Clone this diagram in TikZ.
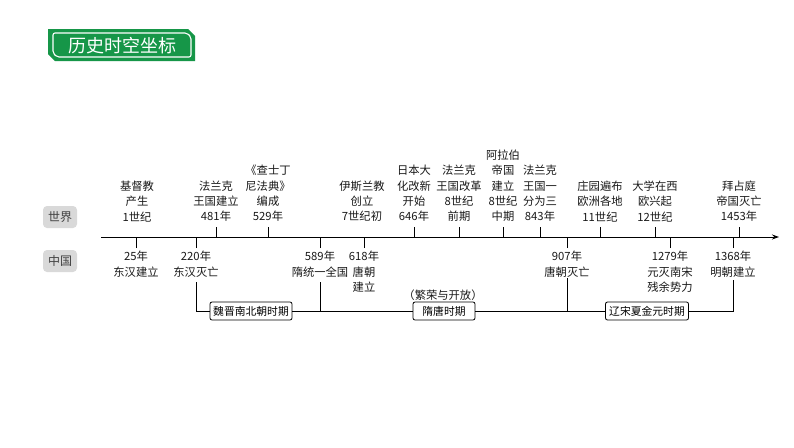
\documentclass[tikz,border=0pt]{standalone}
\usepackage{fontspec}
\setmainfont{Noto Sans CJK SC}
\usetikzlibrary{arrows.meta}
\definecolor{bannergreen}{RGB}{22,150,72}
\definecolor{tagfill}{RGB}{217,217,217}
\definecolor{tagtext}{RGB}{64,64,64}
\begin{document}
\begin{tikzpicture}[x=1pt,y=-1pt,
  lbl/.style={align=center,inner sep=0pt,font=\fontsize{11.3}{15.3}\selectfont,text=black!90},
  up/.style={lbl,anchor=south},
  down/.style={lbl,anchor=north},
  tickline/.style={line width=0.8pt},
  axisline/.style={line width=1pt,-{Stealth[length=7pt,width=5pt]}},
  tag/.style={fill=tagfill,rounded corners=4pt,minimum width=34pt,minimum height=22pt,inner sep=0pt,text=tagtext,font=\fontsize{12}{14}\selectfont},
  period/.style={draw,line width=0.8pt,rounded corners=2pt,fill=white,minimum height=18pt,inner sep=0pt,font=\fontsize{10.8}{12}\selectfont},
  conn/.style={line width=0.8pt}]
\useasboundingbox (0,0) rectangle (794,447);
\fill[white] (0,0) rectangle (794,447);
% banner
\fill[bannergreen] (48,29) -- (188,29) -- (195,36) -- (195,61) -- (55,61) -- (48,54) -- cycle;
\draw[white,line width=1.1pt,rounded corners=2pt] (53,33) -- (187,33) -- (191,37) -- (191,57) -- (57,57) -- (53,53) -- cycle;
\node[white,inner sep=0pt,font=\fontsize{18}{20}\selectfont] (title) at (122,46) {历史时空坐标};
% tags
\node[tag] (world) at (60,217) {世界};
\node[tag] (china) at (60,261) {中国};
% axis
\coordinate (axs) at (101,237);
\coordinate (axe) at (779,237);
\draw[axisline] (axs) -- (axe);
% world labels
\node[up] (w1) at (137,222) {基督教\\产生\\1世纪};
\node[up] (w481) at (216,222) {法兰克\\王国建立\\481年};
\node[up] (w529) at (268,222) {《查士丁\\尼法典》\\编成\\529年};
\node[up] (w7) at (362,222) {伊斯兰教\\创立\\7世纪初};
\node[up] (w646) at (414,222) {日本大\\化改新\\开始\\646年};
\node[up] (w8a) at (459,222) {法兰克\\王国改革\\8世纪\\前期};
\node[up] (w8b) at (503,222) {阿拉伯\\帝国\\建立\\8世纪\\中期};
\node[up] (w843) at (540,222) {法兰克\\王国一\\分为三\\843年};
\node[up] (w11) at (600,222) {庄园遍布\\欧洲各地\\11世纪};
\node[up] (w12) at (655,222) {大学在西\\欧兴起\\12世纪};
\node[up] (w1453) at (739,222) {拜占庭\\帝国灭亡\\1453年};
\foreach \n in {w481,w529,w646,w8a,w8b,w843,w11,w12,w1453}
  \draw[tickline,shorten <=5pt] (\n.south) -- (\n.south |- axs);
% china labels
\node[down] (c25) at (136,251) {25年\\东汉建立};
\node[down] (c220) at (196,251) {220年\\东汉灭亡};
\node[down] (c589) at (320,251) {589年\\隋统一全国};
\node[down] (c618) at (364,251) {618年\\唐朝\\建立};
\node[down] (c907) at (567,251) {907年\\唐朝灭亡};
\node[down] (c1279) at (670,251) {1279年\\元灭南宋\\残余势力};
\node[down] (c1368) at (733,251) {1368年\\明朝建立};
\foreach \n in {c25,c220,c589,c618,c907,c1279,c1368}
  \draw[tickline,shorten <=3pt] (\n.north) -- (\n.north |- axs);
% periods
\node[period,minimum width=82pt] (wj) at (251,311) {魏晋南北朝时期};
\node[period,minimum width=62pt] (st) at (444,311) {隋唐时期};
\node[period,minimum width=83pt] (lj) at (647,311) {辽宋夏金元时期};
\node[lbl] (fr) at (443,295) {（繁荣与开放）};
\draw[conn] ([yshift=-5pt]c220.south) |- (wj.west);
\draw[conn] (wj.east) -- (st.west);
\draw[conn] (st.east) -- (lj.west);
\draw[conn] (lj.east) -| ([yshift=-3pt]c1368.south);
\draw[conn] ([yshift=-5pt]c589.south) -- (c589.south |- wj.east);
\draw[conn] ([yshift=-1pt]c907.south) -- (c907.south |- st.east);
\end{tikzpicture}
\end{document}
